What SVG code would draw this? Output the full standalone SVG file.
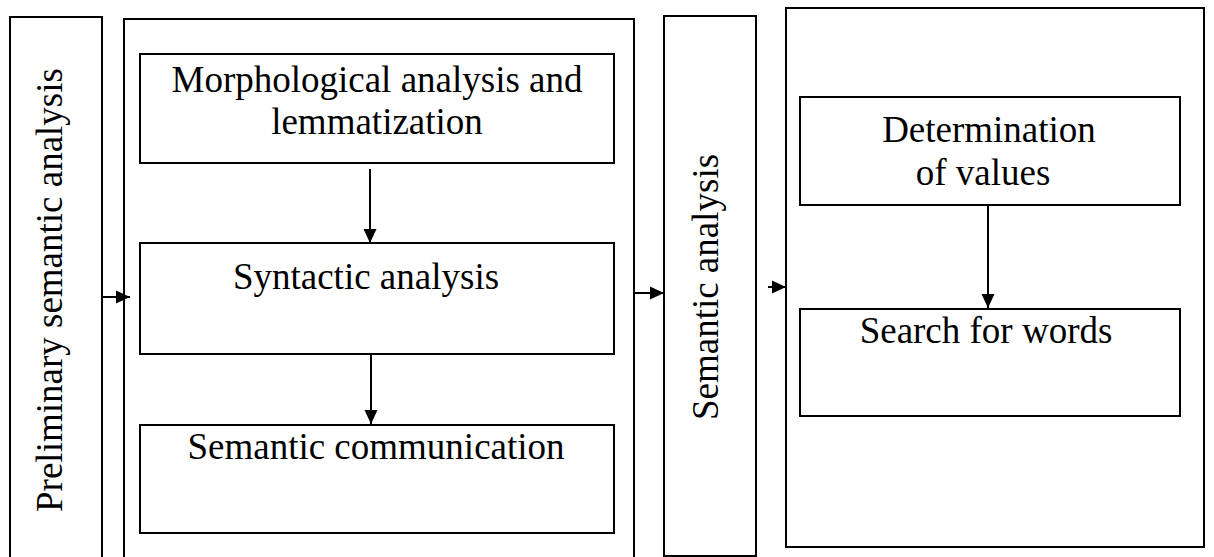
<svg xmlns="http://www.w3.org/2000/svg" width="1214" height="557" viewBox="0 0 1214 557">
<style>
.b{fill:#fff;stroke:#000;stroke-width:2}
.t{font-family:"Liberation Serif",serif;font-size:37px;fill:#000}
.c{stroke:#000;stroke-width:2;fill:none}
</style>
<defs>
<marker id="a" markerWidth="14" markerHeight="14" refX="14" refY="7" orient="auto" markerUnits="userSpaceOnUse" viewBox="0 0 14 14"><path d="M0,0.5L14,7L0,13.5z" fill="#000"/></marker>
</defs>
<rect width="1214" height="557" fill="#fff"/>
<g id="prelim"><rect class="b" x="10" y="17" width="92" height="560"/><text class="t" transform="translate(62,290) rotate(-90)" text-anchor="middle">Preliminary semantic analysis</text></g>
<g id="group2"><rect class="b" x="124" y="19" width="510" height="560"/></g>
<g id="morph"><rect class="b" x="140" y="54" width="474" height="109"/><text class="t" x="377" y="92" text-anchor="middle">Morphological analysis and</text><text class="t" x="377" y="134" text-anchor="middle">lemmatization</text></g>
<g id="synt"><rect class="b" x="140" y="243" width="474" height="111"/><text class="t" x="366" y="289" text-anchor="middle">Syntactic analysis</text></g>
<g id="semcom"><rect class="b" x="140" y="425" width="474" height="108"/><text class="t" x="376" y="459" text-anchor="middle">Semantic communication</text></g>
<g id="seman"><rect class="b" x="664" y="16" width="92" height="540"/><text class="t" transform="translate(718,287) rotate(-90)" text-anchor="middle">Semantic analysis</text></g>
<g id="group4"><rect class="b" x="786" y="8" width="418" height="539"/></g>
<g id="determ"><rect class="b" x="800" y="97" width="380" height="108"/><text class="t" x="989" y="142" text-anchor="middle">Determination</text><text class="t" x="983" y="185" text-anchor="middle">of values</text></g>
<g id="search"><rect class="b" x="800" y="309" width="380" height="107"/><text class="t" x="986" y="343" text-anchor="middle">Search for words</text></g>
<g id="connectors">
<line class="c" x1="102" y1="297" x2="130" y2="297" marker-end="url(#a)"/>
<line class="c" x1="370" y1="169" x2="370" y2="243" marker-end="url(#a)"/>
<line class="c" x1="371" y1="355" x2="371" y2="424" marker-end="url(#a)"/>
<line class="c" x1="634" y1="293" x2="664" y2="293" marker-end="url(#a)"/>
<line class="c" x1="768" y1="287" x2="786" y2="287" marker-end="url(#a)"/>
<line class="c" x1="988" y1="205" x2="988" y2="308" marker-end="url(#a)"/>
</g>
</svg>
